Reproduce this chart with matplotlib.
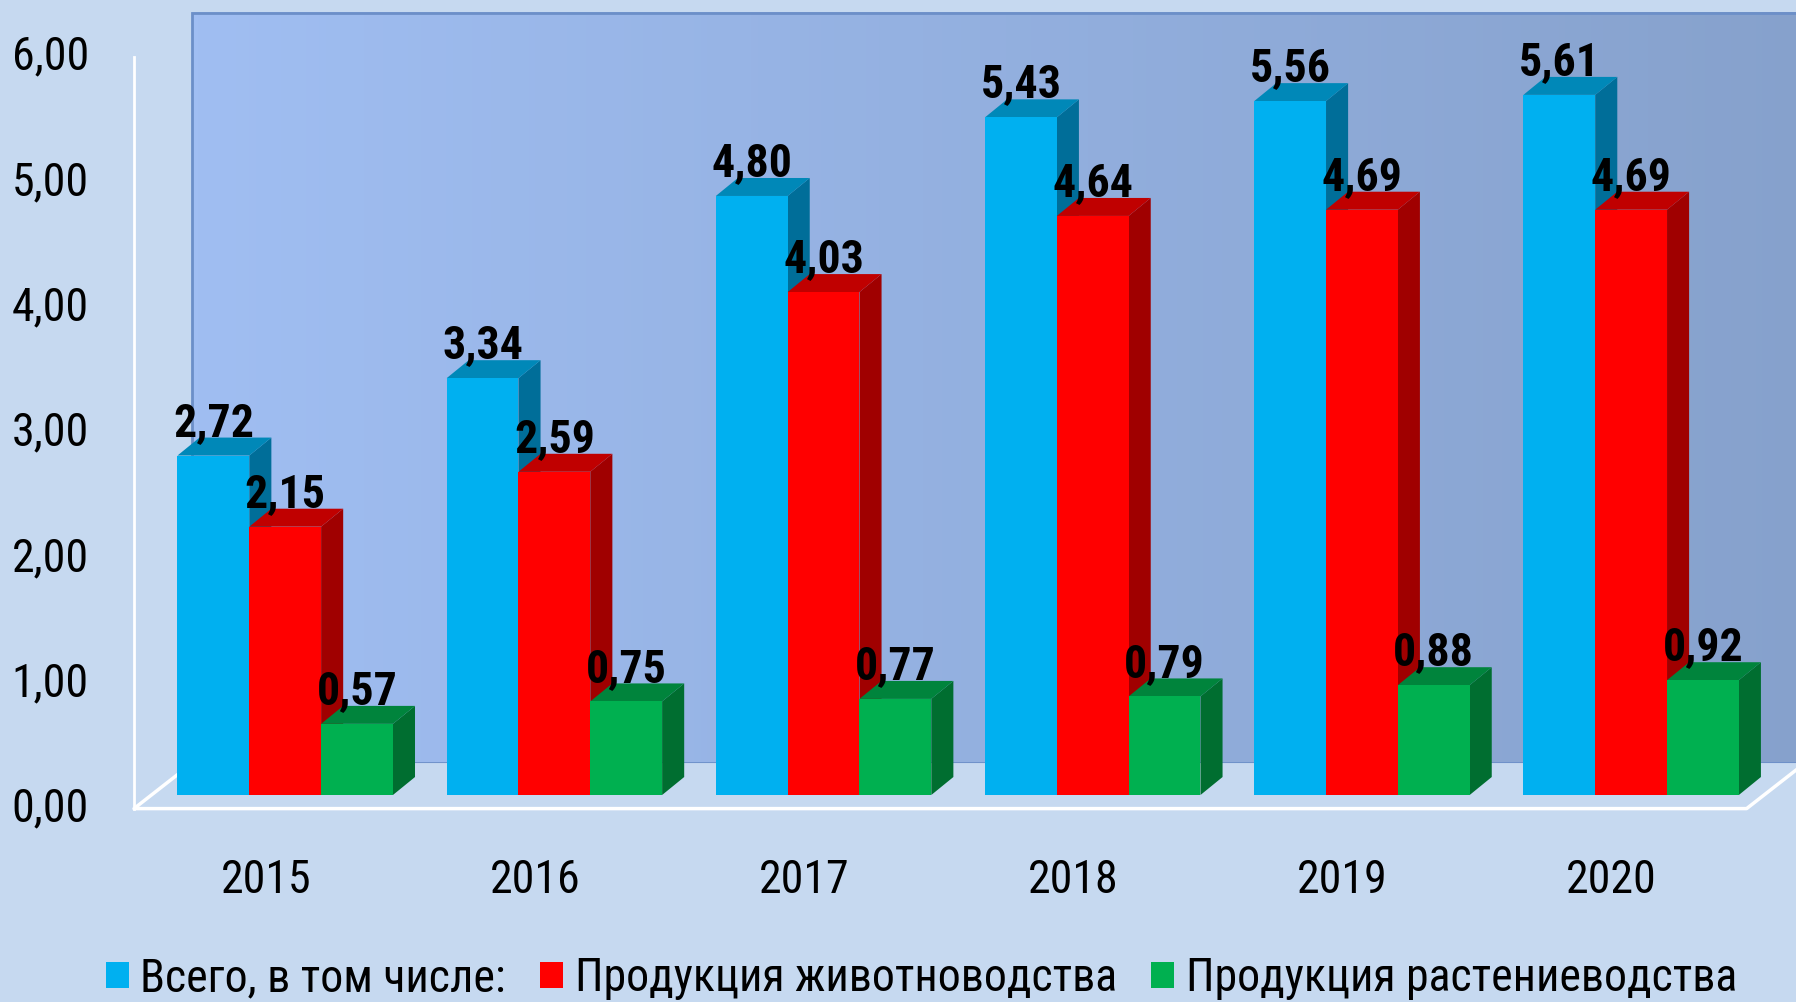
import matplotlib
matplotlib.use('Agg')
import numpy as np
import matplotlib.pyplot as plt
from matplotlib.patches import Polygon, Rectangle
from matplotlib.colors import LinearSegmentedColormap

years = ['2015', '2016', '2017', '2018', '2019', '2020']
total = [2.72, 3.34, 4.80, 5.43, 5.56, 5.61]
livestock = [2.15, 2.59, 4.03, 4.64, 4.69, 4.69]
crops = [0.57, 0.75, 0.77, 0.79, 0.88, 0.92]
series_names = ['Всего, в том числе:', 'Продукция животноводства', 'Продукция растениеводства']
yticks = [0, 1, 2, 3, 4, 5, 6]

plt.rcParams['font.family'] = ['Roboto Condensed', 'Fira Sans Condensed', 'DejaVu Sans']

# цвета: передняя грань, верх, бок
colors = [
    ('#00B0F0', '#0088B8', '#006E99'),
    ('#FF0000', '#C00000', '#A00000'),
    ('#00B050', '#00843C', '#006E30'),
]
bg = '#C6D9F0'
fs = 33

fig = plt.figure(figsize=(17.96, 10.02), dpi=100)
fig.patch.set_facecolor(bg)
ax = fig.add_axes([0, 0, 1, 1])
ax.set_xlim(-1.0595, 5.6125)
ax.set_ylim(-1.6587, 6.3702)
ax.axis('off')

w = 0.2668      # ширина столбца
ddx = 0.082     # глубина по x
ddy = 0.144     # глубина по y

# задняя стенка с градиентом
cmap = LinearSegmentedColormap.from_list('wall', ['#A0BEF2', '#86A1CC'])
grad = np.linspace(0, 1, 256).reshape(1, -1)
ax.imshow(grad, cmap=cmap, extent=(-0.345, 5.7, 0.256, 6.27), aspect='auto', zorder=0)
ax.add_patch(Rectangle((-0.345, 0.256), 6.1, 6.014, fill=False, edgecolor='#6C8FC8',
                       linewidth=2, zorder=1))

# пол
floor = Polygon([(-0.5617, -0.109), (5.429, -0.109), (5.646, 0.256), (-0.345, 0.256)],
                closed=True, facecolor=bg, edgecolor='none', zorder=1)
ax.add_patch(floor)
ax.plot([-0.345, -0.5617, 5.429, 5.646], [0.256, -0.109, -0.109, 0.256],
        color='white', linewidth=2.5, zorder=2, solid_capstyle='butt')
# вертикальная ось
ax.plot([-0.5617, -0.5617], [-0.109, 5.915], color='white', linewidth=2, zorder=2)

for t in yticks:
    ax.text(-0.729, t * 1.004 - 0.109, f'{t:.2f}'.replace('.', ','), ha='right', va='center',
            fontsize=fs, color='black')

for i, year in enumerate(years):
    vals = [total[i], livestock[i], crops[i]]
    for k, v in enumerate(vals):
        xl = i + (k - 1.5) * w
        xr = xl + w
        front_c, top_c, side_c = colors[k]
        z = 3 + i * 3 + k
        ax.add_patch(Polygon([(xr, 0), (xr + ddx, ddy), (xr + ddx, v + ddy), (xr, v)],
                             closed=True, facecolor=side_c, edgecolor='none', zorder=z))
        ax.add_patch(Polygon([(xl, v), (xr, v), (xr + ddx, v + ddy), (xl + ddx, v + ddy)],
                             closed=True, facecolor=top_c, edgecolor='none', zorder=z))
        ax.add_patch(Rectangle((xl, 0), w, v, facecolor=front_c, edgecolor='none', zorder=z))
        ax.text(xl + w / 2, v + ddy + 0.015, f'{v:.2f}'.replace('.', ','), ha='center',
                va='baseline', fontsize=fs, fontweight='bold', color='black', zorder=50)
    ax.text(i - 0.072, -0.681, year, ha='center', va='center', fontsize=fs, color='black')

handles = [Rectangle((0, 0), 1, 1, facecolor=c[0], edgecolor='none') for c in colors]
fig.legend(handles, series_names, loc='center', bbox_to_anchor=(0.513, 0.024), ncol=3,
           frameon=False, fontsize=fs, handlelength=0.5, handleheight=0.5,
           handletextpad=0.25, columnspacing=0.75, borderpad=0)

plt.savefig('out.png', dpi=100, facecolor=bg)
